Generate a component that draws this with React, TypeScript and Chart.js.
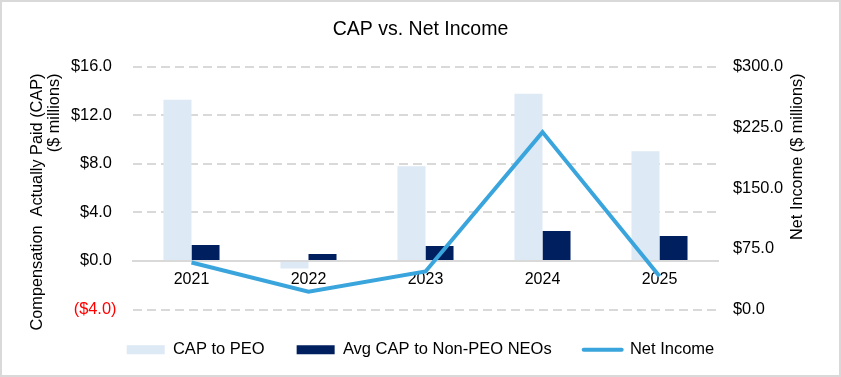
import React, { useEffect, useRef } from 'react';
import Chart from 'chart.js/auto';

const YEARS = ['2021', '2022', '2023', '2024', '2025'];
const CAP_TO_PEO = [13.27, -0.63, 7.8, 13.76, 9.02];
const AVG_CAP_NEO = [1.31, 0.57, 1.23, 2.46, 2.05];
const NET_INCOME = [58, 22, 47, 219, 41];
const SERIES_LABELS = ['CAP to PEO', 'Avg CAP to Non-PEO NEOs', 'Net Income'];
const TITLE = 'CAP vs. Net Income';
const LEFT_TITLE = ['Compensation  Actually Paid (CAP)', '($ millions)'];
const RIGHT_TITLE = 'Net Income ($ millions)';
const LEFT_RANGE = [-4, 16, 4];
const RIGHT_RANGE = [0, 300, 75];

const COLORS = { peo: '#DDE9F5', neo: '#001F5F', net: '#3AA5DC', grid: '#D9D9D9' };
const FONT = '"Liberation Sans", Arial, sans-serif';

const W = 837;
const H = 373;

const axisTitlePlugin = {
  id: 'axisTitles',
  afterDraw(chart: any) {
    const { ctx, chartArea } = chart;
    const yl = chart.scales.y;
    const yr = chart.scales.y1;
    ctx.save();
    ctx.font = `16.3px ${FONT}`;
    ctx.fillStyle = '#000';
    ctx.textBaseline = 'middle';
    ctx.textAlign = 'right';
    LEFT_TITLE.forEach((line, i) => {
      ctx.save();
      ctx.translate(yl.left + 36 + i * 17, chartArea.top + 7);
      ctx.rotate(-Math.PI / 2);
      ctx.fillText(line, 0, 0);
      ctx.restore();
    });
    ctx.save();
    ctx.translate(yr.right - 41, chartArea.top + 7);
    ctx.rotate(-Math.PI / 2);
    ctx.fillText(RIGHT_TITLE, 0, 0);
    ctx.restore();
    ctx.restore();
  },
};

export default function App() {
  const ref = useRef<HTMLCanvasElement | null>(null);

  useEffect(() => {
    if (!ref.current) return;
    Chart.defaults.font.family = FONT;
    const chart = new Chart(ref.current, {
      type: 'bar',
      data: {
        labels: YEARS,
        datasets: [
          {
            type: 'bar',
            label: SERIES_LABELS[0],
            data: CAP_TO_PEO,
            backgroundColor: COLORS.peo,
            yAxisID: 'y',
            order: 1,
            categoryPercentage: 0.479,
            barPercentage: 1.0,
          },
          {
            type: 'bar',
            label: SERIES_LABELS[1],
            data: AVG_CAP_NEO,
            backgroundColor: COLORS.neo,
            yAxisID: 'y',
            order: 1,
            categoryPercentage: 0.479,
            barPercentage: 1.0,
          },
          {
            type: 'line',
            label: SERIES_LABELS[2],
            data: NET_INCOME,
            borderColor: COLORS.net,
            backgroundColor: COLORS.net,
            borderWidth: 4,
            pointRadius: 0,
            tension: 0,
            yAxisID: 'y1',
            order: 0,
          },
        ] as any,
      },
      options: {
        animation: false,
        responsive: false,
        events: [],
        layout: { padding: { top: 0, bottom: 7, left: 0, right: 0 } },
        plugins: {
          tooltip: { enabled: false },
          title: {
            display: true,
            text: TITLE,
            color: '#000',
            font: { size: 19.5, weight: 'normal' as any },
            padding: { top: 15.8, bottom: 25.3 },
          },
          legend: {
            position: 'bottom',
            labels: {
              color: '#000',
              font: { size: 16.5 },
              usePointStyle: true,
              pointStyleWidth: 38,
              boxWidth: 38,
              boxHeight: 9,
              padding: 32,
              generateLabels: (c: any) =>
                c.data.datasets.map((ds: any, i: number) => ({
                  text: ds.label,
                  fillStyle: i < 2 ? ds.backgroundColor : ds.borderColor,
                  strokeStyle: i < 2 ? ds.backgroundColor : ds.borderColor,
                  lineWidth: i < 2 ? 0 : 4,
                  lineCap: 'round',
                  pointStyle: i < 2 ? 'rect' : 'line',
                  hidden: false,
                  datasetIndex: i,
                  fontColor: '#000',
                })),
            },
          },
        },
        scales: {
          x: {
            position: { y: 0 } as any,
            offset: true,
            grid: { display: false, drawTicks: false },
            border: { display: true, color: COLORS.grid, width: 2 },
            ticks: { color: '#000', font: { size: 16 }, padding: 9 },
          },
          y: {
            position: 'left',
            min: LEFT_RANGE[0],
            max: LEFT_RANGE[1],
            ticks: {
              stepSize: LEFT_RANGE[2],
              padding: 16.5,
              font: { size: 16.4 },
              color: (c: any) => (c.tick && c.tick.value < 0 ? '#FF0000' : '#000'),
              callback: (v: any) => (v < 0 ? `($${Math.abs(v).toFixed(1)})` : `$${Number(v).toFixed(1)} `),
            },
            grid: {
              drawTicks: false,
              lineWidth: 2,
              color: (c: any) => (c.tick && c.tick.value === 0 ? 'rgba(0,0,0,0)' : COLORS.grid),
            },
            border: { display: false, dash: [9, 5] },
            afterFit: (s: any) => {
              s.width = 131;
            },
          },
          y1: {
            position: 'right',
            min: RIGHT_RANGE[0],
            max: RIGHT_RANGE[1],
            ticks: {
              stepSize: RIGHT_RANGE[2],
              padding: 15,
              font: { size: 16.4 },
              color: '#000',
              callback: (v: any) => `$${Number(v).toFixed(1)}`,
            },
            grid: { display: false, drawTicks: false },
            border: { display: false },
            afterFit: (s: any) => {
              s.width = 121;
            },
          },
        },
      } as any,
      plugins: [axisTitlePlugin],
    });
    return () => chart.destroy();
  }, []);

  return (
    <div
      style={{
        position: 'absolute',
        left: 0,
        top: 0,
        width: 841,
        height: 377,
        boxSizing: 'border-box',
        border: '2px solid #D9D9D9',
        background: '#fff',
      }}
    >
      <canvas ref={ref} width={W} height={H} style={{ display: 'block', width: W, height: H }} />
    </div>
  );
}
